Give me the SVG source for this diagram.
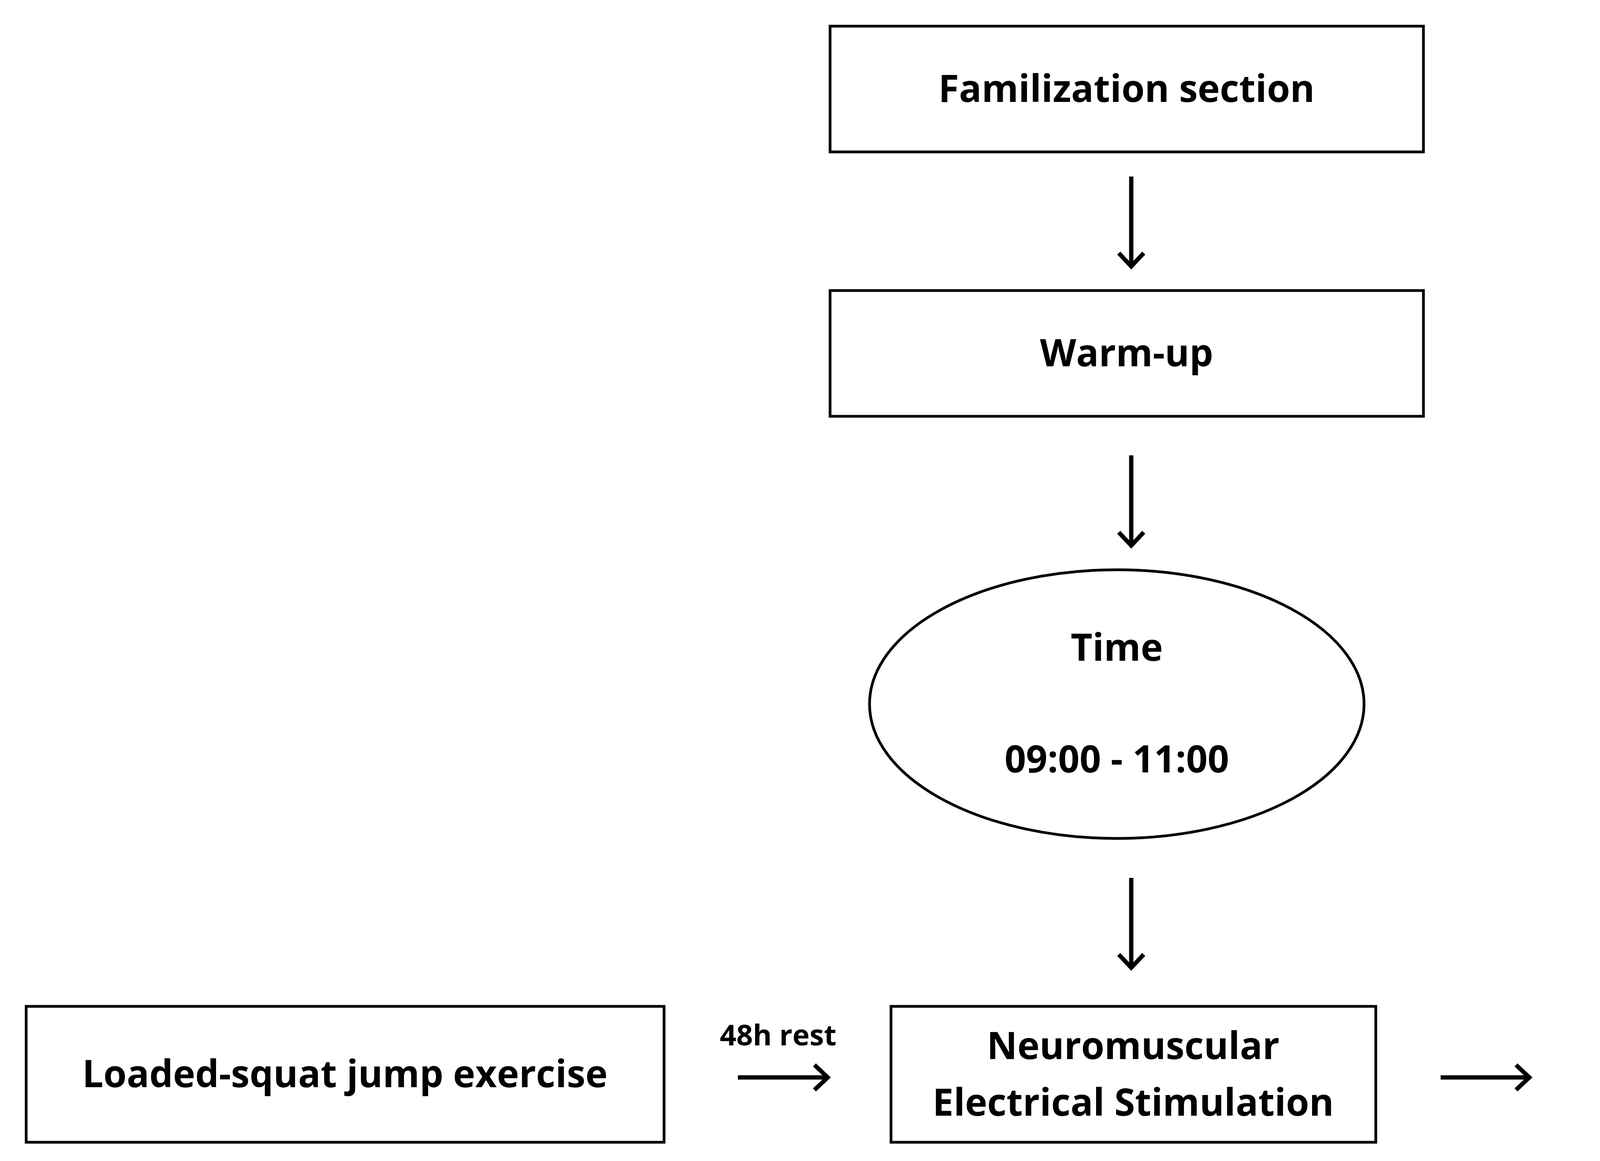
<svg xmlns="http://www.w3.org/2000/svg" width="5807" height="2973" viewBox="0 0 5807 2973">
<style>
.n{fill:#fff;stroke:#000;stroke-width:7}
.t{font-family:"Open Sans","Liberation Sans",sans-serif;font-weight:bold;font-size:96px;fill:#000;text-anchor:middle}
.s{font-size:74px}
.c{stroke:#000;stroke-width:11;fill:none;marker-end:url(#a)}
</style>
<defs><marker id="a" viewBox="0 0 10 10" refX="9" refY="5" markerWidth="5" markerHeight="5" orient="auto" markerUnits="userSpaceOnUse" overflow="visible"><path d="M0,0 L9,5 L0,10" fill="none" stroke="#000" stroke-width="11" transform="scale(1)"/></marker></defs>
<rect width="5807" height="2973" fill="#fff"/>
<g id="fam"><rect class="n" x="2125" y="67" width="1519" height="322"/><text class="t" x="2884" y="261">Familization section</text></g>
<g id="warm"><rect class="n" x="2125" y="744" width="1519" height="322"/><text class="t" x="2884" y="938">Warm-up</text></g>
<g id="time"><ellipse class="n" cx="2859" cy="1803" rx="633" ry="344"/><text class="t" x="2859" y="1692">Time</text><text class="t" x="2859" y="1978">09:00 - 11:00</text></g>
<g id="lsj1"><rect class="n" x="67" y="2577" width="1633" height="348"/><text class="t" x="883" y="2784">Loaded-squat jump exercise</text></g>
<g id="nmes"><rect class="n" x="2281" y="2577" width="1241" height="348"/><text class="t" x="2901" y="2712">Neuromuscular</text><text class="t" x="2901" y="2857">Electrical Stimulation</text></g>
<g id="lsj2"><rect class="n" x="4107" y="2577" width="1637" height="348"/><text class="t" x="4925" y="2784">Loaded-squat jump exercise</text></g>
<g id="connectors">
<path d="M2896,452 V1" class="c" style="display:none"/>
<line class="c" x1="2896" y1="452" x2="2896" y2="678" marker-end="none"/>
<path d="M2864,648 L2896,682 L2928,648" fill="none" stroke="#000" stroke-width="11"/>
<line class="c" x1="2896" y1="1166" x2="2896" y2="1393" marker-end="none"/>
<path d="M2864,1363 L2896,1397 L2928,1363" fill="none" stroke="#000" stroke-width="11"/>
<line class="c" x1="2896" y1="2248" x2="2896" y2="2474" marker-end="none"/>
<path d="M2864,2444 L2896,2478 L2928,2444" fill="none" stroke="#000" stroke-width="11"/>
<line class="c" x1="1889" y1="2759" x2="2115" y2="2759" marker-end="none"/>
<path d="M2085,2727 L2119,2759 L2085,2791" fill="none" stroke="#000" stroke-width="11"/>
<line class="c" x1="3688" y1="2759" x2="3911" y2="2759" marker-end="none"/>
<path d="M3881,2727 L3915,2759 L3881,2791" fill="none" stroke="#000" stroke-width="11"/>
<text class="t s" x="1992" y="2677">48h rest</text>
</g>
</svg>
